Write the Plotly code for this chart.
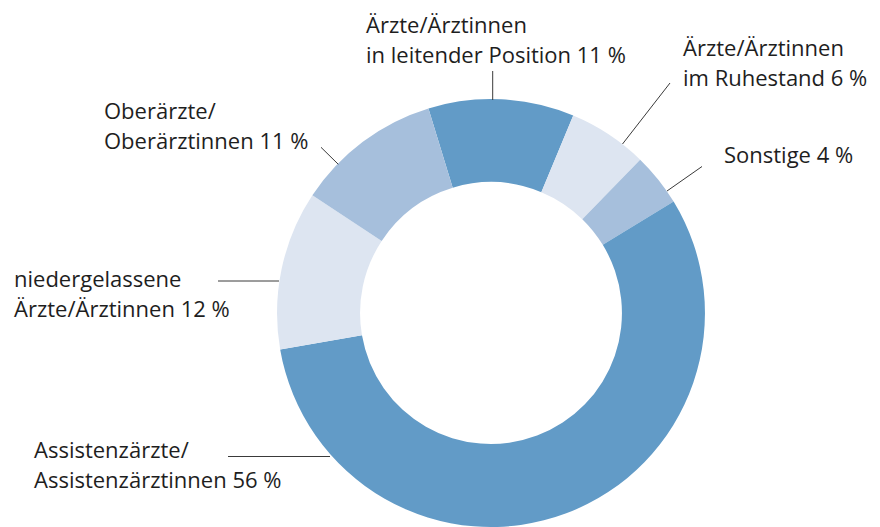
import plotly.graph_objects as go

W, H = 880, 527

categories = [
    "Ärzte/Ärztinnen in leitender Position",
    "Ärzte/Ärztinnen im Ruhestand",
    "Sonstige",
    "Assistenzärzte/Assistenzärztinnen",
    "niedergelassene Ärzte/Ärztinnen",
    "Oberärzte/Oberärztinnen",
]
values = [11, 6, 4, 56, 12, 11]
colors = ["#629bc7", "#dde5f1", "#a6bfdc", "#629bc7", "#dde5f1", "#a6bfdc"]

# label lines (text), left x, baselines in px
label_lines = [
    ["Ärzte/Ärztinnen", "in leitender Position 11 %"],
    ["Ärzte/Ärztinnen", "im Ruhestand 6 %"],
    ["Sonstige 4 %"],
    ["Assistenzärzte/", "Assistenzärztinnen 56 %"],
    ["niedergelassene", "Ärzte/Ärztinnen 12 %"],
    ["Oberärzte/", "Oberärztinnen 11 %"],
]
label_x = [365, 682, 723, 33, 13, 103]
label_base = [32, 55, 162, 457, 286, 118]
line_gap = 30

leaders = [
    ((492.7, 71), (492.7, 100)),
    ((670, 83), (622.5, 144)),
    ((702, 166.5), (667, 191)),
    ((228, 456.5), (330, 456.5)),
    ((218, 281), (279, 281)),
    ((321, 147.3), (338.3, 164.3)),
]

FS = 22
fig = go.Figure()
fig.add_trace(go.Pie(
    labels=categories,
    values=values,
    sort=False,
    direction="clockwise",
    rotation=-17,
    hole=0.612,
    marker=dict(colors=colors, line=dict(width=0)),
    textinfo="none",
    hoverinfo="label+percent",
    showlegend=False,
    domain=dict(x=[(491 - 214.5) / W, (491 + 214.5) / W], y=[0, 0.812]),
))

def px(x):
    return x / W

def py(y):
    return 1 - y / H

ann = []
for lines, x0, b0 in zip(label_lines, label_x, label_base):
    for i, t in enumerate(lines):
        base = b0 + i * line_gap
        ann.append(dict(
            x=px(x0 - 1), y=py(base - 0.36 * FS), xref="paper", yref="paper",
            xanchor="left", yanchor="middle", text=t, showarrow=False,
            font=dict(family="Open Sans", size=FS, color="#1e1e1e"),
        ))

shapes = []
for (a, b) in leaders:
    shapes.append(dict(type="line", xref="paper", yref="paper",
                       x0=px(a[0]), y0=py(a[1]), x1=px(b[0]), y1=py(b[1]),
                       line=dict(color="#3a3a3a", width=1)))

fig.update_layout(
    width=W, height=H,
    margin=dict(l=0, r=0, t=0, b=0),
    paper_bgcolor="white", plot_bgcolor="white",
    annotations=ann, shapes=shapes,
)
fig.write_html("out.html", config={"displayModeBar": False},
               post_script="document.body.style.margin='0px';")
